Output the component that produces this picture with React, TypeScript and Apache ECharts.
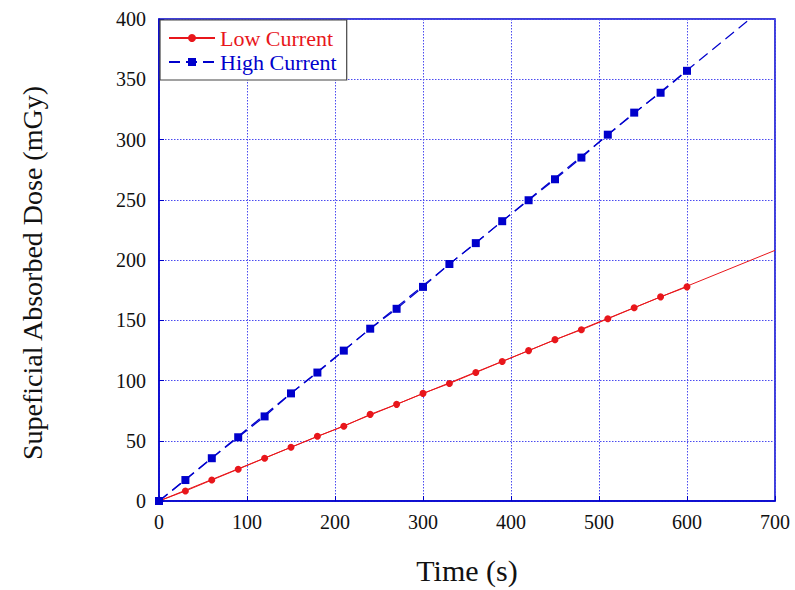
import React, { useEffect, useRef } from "react";
import * as echarts from "echarts";

const timeS = [0, 30, 60, 90, 120, 150, 180, 210, 240, 270, 300, 330, 360, 390, 420, 450, 480, 510, 540, 570, 600];
const lowCurrent = [0, 8.3, 17.4, 26.4, 35.5, 44.6, 53.7, 62, 71.9, 80.2, 89.3, 97.5, 106.6, 115.7, 124.8, 133.9, 142.1, 151.2, 160.3, 169.4, 177.7];
const highCurrent = [0, 17.4, 35.5, 52.9, 70.2, 89.3, 106.6, 124.8, 143, 159.5, 177.7, 196.7, 214, 232.2, 249.6, 267, 285, 304, 322.3, 338.8, 357];
const lowFit = [[0, 0], [700, 208]];
const highFit = [[0, 0], [700, 417]];
const xTicks = { min: 0, max: 700, interval: 100 };
const yTicks = { min: 0, max: 400, interval: 50 };
const yTitle = "Supeficial Absorbed Dose (mGy)";
const xTitle = "Time (s)";

const BLUE = "#0000cc";
const RED = "#e8161b";
const SERIF = "Liberation Serif, Times New Roman, serif";

export default function App() {
  const ref = useRef<HTMLDivElement>(null);
  useEffect(() => {
    if (!ref.current) return;
    const chart = echarts.init(ref.current, undefined, { renderer: "svg" });
    chart.setOption({
      animation: false,
      backgroundColor: "#ffffff",
      grid: {
        left: 159,
        right: 20,
        top: 19,
        bottom: 87,
        show: true,
        borderColor: BLUE,
        borderWidth: 1.5,
        backgroundColor: "transparent",
      },
      graphic: [
        {
          type: "text",
          x: 32,
          y: 273,
          rotation: Math.PI / 2,
          style: {
            text: yTitle,
            fontFamily: SERIF,
            fontSize: 28,
            fill: "#111",
            textAlign: "center",
            textVerticalAlign: "middle",
          },
        },
      ],
      legend: {
        orient: "vertical",
        left: 160,
        top: 20,
        backgroundColor: "#ffffff",
        borderColor: "#444444",
        borderWidth: 1.2,
        borderRadius: 0,
        padding: [7, 10, 7, 8],
        itemGap: 2,
        itemWidth: 46,
        itemHeight: 10,
        data: [
          { name: "Low Current", textStyle: { color: RED } },
          { name: "High Current", textStyle: { color: BLUE } },
        ],
        textStyle: { fontFamily: SERIF, fontSize: 22 },
        z: 10,
      },
      xAxis: {
        type: "value",
        min: xTicks.min,
        max: xTicks.max,
        interval: xTicks.interval,
        name: xTitle,
        nameLocation: "middle",
        nameGap: 54,
        nameTextStyle: { fontFamily: SERIF, fontSize: 30, color: "#111" },
        axisLine: { show: true, lineStyle: { color: BLUE, width: 1.5 } },
        axisTick: { show: true, inside: true, length: 5, lineStyle: { color: BLUE } },
        axisLabel: { fontFamily: SERIF, fontSize: 20, color: "#111", margin: 11 },
        splitLine: { show: true, lineStyle: { color: "#4a4af0", type: [1.5, 1.5], width: 1 } },
      },
      yAxis: {
        type: "value",
        min: yTicks.min,
        max: yTicks.max,
        interval: yTicks.interval,
        axisLine: { show: true, lineStyle: { color: BLUE, width: 1.5 } },
        axisTick: { show: true, inside: true, length: 5, lineStyle: { color: BLUE } },
        axisLabel: { fontFamily: SERIF, fontSize: 20, color: "#111", margin: 13 },
        splitLine: { show: true, lineStyle: { color: "#4a4af0", type: [1.5, 1.5], width: 1 } },
      },
      series: [
        {
          name: "Low Current fit",
          type: "line",
          data: lowFit,
          symbol: "none",
          lineStyle: { color: RED, width: 1 },
          silent: true,
          clip: true,
        },
        {
          name: "High Current fit",
          type: "line",
          data: highFit,
          symbol: "none",
          lineStyle: { color: BLUE, width: 1.2, type: [11, 6] },
          silent: true,
          clip: true,
        },
        {
          name: "Low Current",
          type: "line",
          data: timeS.map((t, i) => [t, lowCurrent[i]]),
          symbol: "circle",
          symbolSize: 7,
          itemStyle: { color: RED },
          lineStyle: { color: RED, width: 1 },
        },
        {
          name: "High Current",
          type: "line",
          data: timeS.map((t, i) => [t, highCurrent[i]]),
          symbol: "rect",
          symbolSize: 8,
          itemStyle: { color: BLUE },
          lineStyle: { color: BLUE, width: 1.2, type: [11, 6] },
          clip: false,
        },
      ],
    });
    return () => chart.dispose();
  }, []);
  return (
    <div
      ref={ref}
      style={{ position: "absolute", left: 0, top: 0, width: 795, height: 590 }}
    />
  );
}
